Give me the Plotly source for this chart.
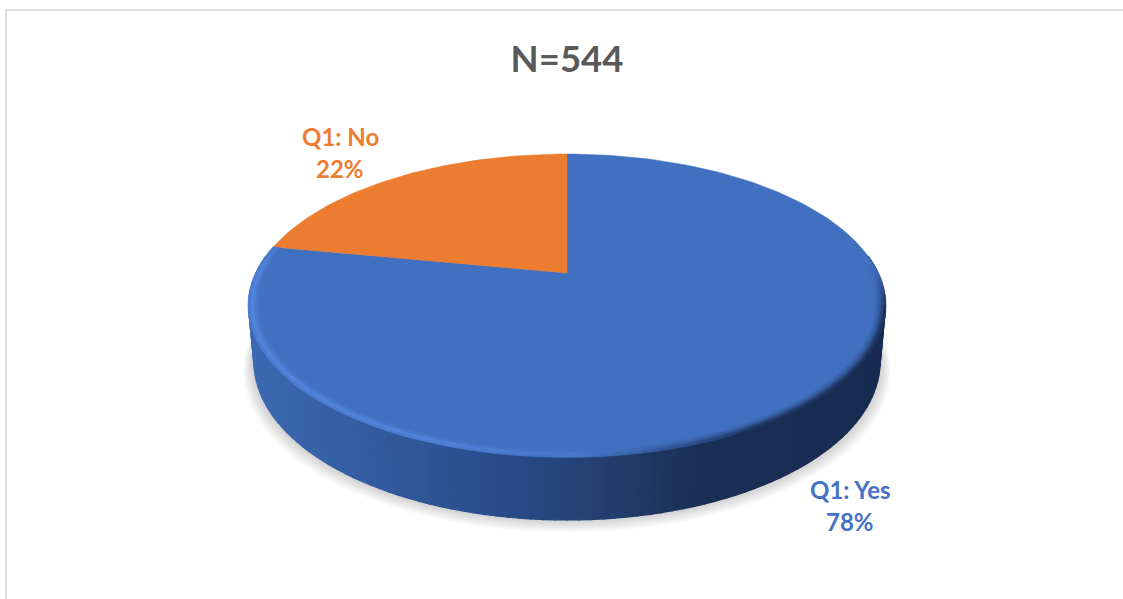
import math
import plotly.graph_objects as go

title = "N=544"
categories = ["Q1: Yes", "Q1: No"]
shares = [78, 22]

W, H = 1123, 599
FACE = {"Q1: Yes": "#4170c0", "Q1: No": "#eb7c30"}
LABEL = {"Q1: Yes": "#4472c4", "Q1: No": "#ed7d31"}
LABEL_POS = {"Q1: Yes": (850, 489), "Q1: No": (340, 136)}
LINE_GAP = 32

CX, CY = 567.0, 273.0
A, B, K = 311.0, 144.5, 0.2145
SIDE_X, SIDE_Y0, SIDE_Y1 = 0.983, 54.0, 63.0


def proj(t, r=1.0):
    """t is the clockwise angle from the top of the pie, in radians."""
    x, y = r * math.sin(t), r * math.cos(t)
    d = 1 + K * y
    return CX + A * x / d, CY - B * y / d


def low(t, grow=0.0, drop=0.0):
    x, y = proj(t)
    c = math.cos(t)
    shift = SIDE_Y0 + (SIDE_Y1 - SIDE_Y0) * max(0.0, -c)
    return CX + (x - CX) * (SIDE_X + grow), y + shift + drop + grow * 100 * max(0, -c)


def mix(c1, c2, f):
    f = max(0.0, min(1.0, f))
    return tuple(c1[i] + (c2[i] - c1[i]) * f for i in range(3))


def rgb(c):
    return "rgb(%d,%d,%d)" % tuple(round(v) for v in c)


SIDE_STOPS = [(250, (60, 105, 178)), (330, (54, 96, 166)), (480, (42, 79, 142)),
              (600, (36, 64, 112)), (700, (27, 47, 86)), (890, (24, 43, 80))]


def side_colour(x):
    for (x0, c0), (x1, c1) in zip(SIDE_STOPS, SIDE_STOPS[1:]):
        if x <= x1:
            return mix(c0, c1, (x - x0) / (x1 - x0))
    return SIDE_STOPS[-1][1]


fig = go.Figure()


def poly(xs, ys, colour, name=None, lw=1.3):
    fig.add_trace(go.Scatter(x=xs, y=ys, mode="lines", fill="toself", fillcolor=colour,
                             line=dict(color=colour, width=lw), hoverinfo="skip",
                             showlegend=False, name=name))


# soft shadow under the slab
N = 180
for k in range(9, 0, -1):
    ts = [2 * math.pi * i / N for i in range(N)]
    pts = [low(t, grow=0.0035 * k + 0.002, drop=k * 1.0) for t in ts]
    poly([p[0] for p in pts], [p[1] for p in pts], "rgba(110,110,110,0.03)", lw=0)

# side wall, front half only
SEG = 110
for i in range(SEG):
    t0 = math.pi / 2 - 0.12 + (math.pi + 0.24) * i / SEG
    t1 = math.pi / 2 - 0.12 + (math.pi + 0.24) * (i + 1) / SEG
    a0, a1 = proj(t0), proj(t1)
    b0, b1 = low(t0), low(t1)
    colour = side_colour((a0[0] + a1[0]) / 2)
    poly([a0[0], a1[0], b1[0], b0[0], a0[0]], [a0[1], a1[1], b1[1], b0[1], a0[1]], rgb(colour))

# top face wedges, clockwise from twelve o'clock
total = sum(shares)
start = 0.0
for cat, val in zip(categories, shares):
    end = start + 2 * math.pi * val / total
    n = max(8, int(240 * val / total))
    pts = [proj(start + (end - start) * i / n) for i in range(n + 1)]
    xs = [CX] + [p[0] for p in pts] + [CX]
    ys = [CY] + [p[1] for p in pts] + [CY]
    poly(xs, ys, FACE[cat], name=cat, lw=0.5)
    start = end

# bevel on the front rim of the big slice
face = (65, 112, 192)
high = (84, 134, 222)
bands = [(0.972, 0.98), (0.98, 0.987), (0.987, 0.994), (0.994, 1.002)]
SEG2 = 90
yes_end = 2 * math.pi * shares[0] / total
b_start = math.pi / 2 - 0.05
for j, (r0, r1) in enumerate(bands):
    for i in range(SEG2):
        t0 = b_start + (yes_end - b_start) * i / SEG2
        t1 = b_start + (yes_end - b_start) * (i + 1) / SEG2
        tm = (t0 + t1) / 2
        xm = proj(tm)[0]
        lit = 1 - max(0.0, min(1.0, (xm - 430) / 230))
        if tm > math.pi * 1.5:
            lit = max(0.0, 1 - (tm - math.pi * 1.5) / 0.4)
        dark = max(0.0, min(1.0, (xm - 580) / 180))
        prof_high = [0.25, 0.7, 1.0, 0.6][j] * lit
        prof_side = [0.15, 0.35, 0.65, 0.9][j] * dark
        if tm < math.pi / 2 + 0.25:
            prof_side *= max(0.0, (tm - math.pi / 2 + 0.05) / 0.3)
        colour = mix(mix(face, high, prof_high), side_colour(xm), prof_side)
        pts = [proj(t0, r0), proj(t1, r0), proj(t1, r1), proj(t0, r1), proj(t0, r0)]
        poly([p[0] for p in pts], [p[1] for p in pts], rgb(colour), lw=0.4)

# chart frame
fig.add_shape(type="line", x0=6, x1=6, y0=10, y1=H, xref="x", yref="y",
              line=dict(color="#dcdcdc", width=2))
fig.add_shape(type="line", x0=5, x1=W, y0=10, y1=10, xref="x", yref="y",
              line=dict(color="#dcdcdc", width=2))

for cat, val in zip(categories, shares):
    lx, ly = LABEL_POS[cat]
    for text, yy in ((cat, ly), (f"{val}%", ly + LINE_GAP)):
        fig.add_annotation(x=lx, y=yy, text=f"<b>{text}</b>", showarrow=False,
                           xref="x", yref="y", xanchor="center", yanchor="middle",
                           font=dict(family="Lato, Open Sans, sans-serif", size=24, color=LABEL[cat]))

fig.update_layout(
    width=W, height=H, autosize=False,
    margin=dict(l=0, r=0, t=0, b=0),
    paper_bgcolor="white", plot_bgcolor="white",
    showlegend=False,
    title=dict(text=f"<b>{title}</b>", x=567 / W, y=1 - 59 / H, xanchor="center", yanchor="middle",
               font=dict(family="Lato, Open Sans, sans-serif", size=36.5, color="#595959")),
    xaxis=dict(range=[0, W], visible=False, fixedrange=True),
    yaxis=dict(range=[H, 0], visible=False, fixedrange=True),
)
fig.write_html("out.html", config={"displayModeBar": False},
               post_script="document.body.style.margin='0';document.body.style.overflow='hidden';")
